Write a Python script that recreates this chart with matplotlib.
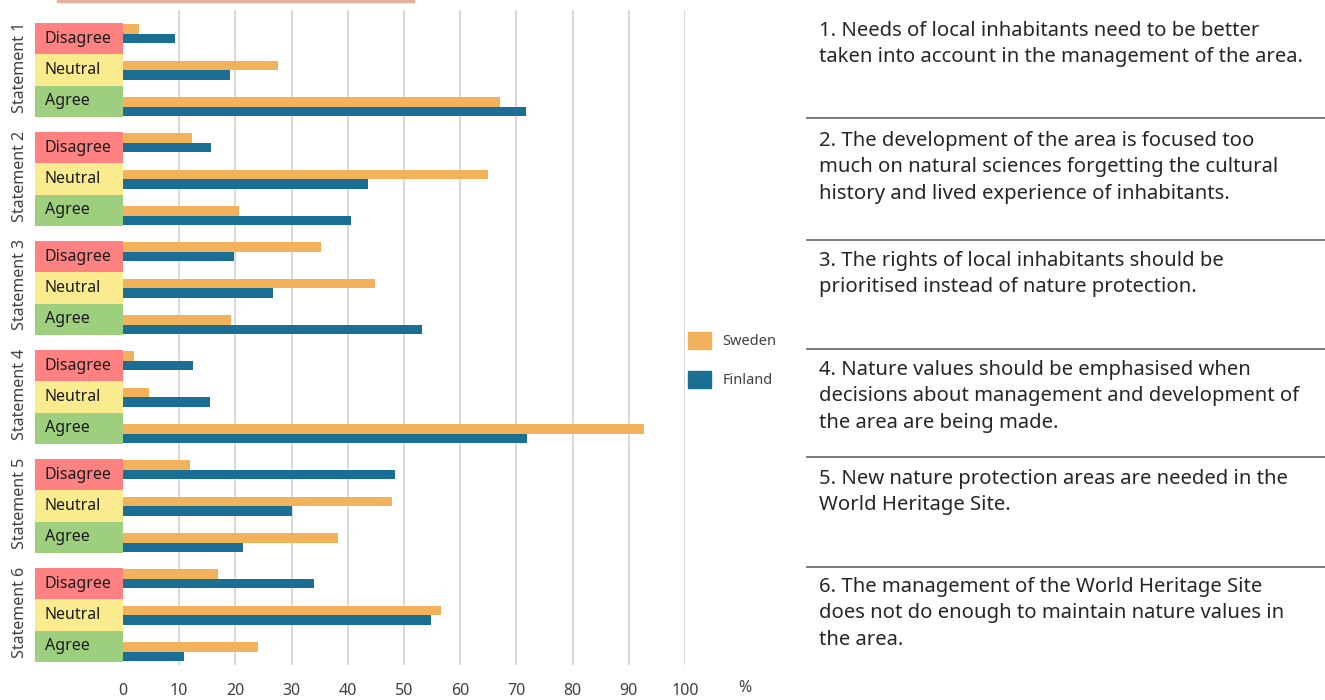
import matplotlib
matplotlib.use("Agg")
import matplotlib.pyplot as plt
from matplotlib.patches import Patch, Rectangle
from matplotlib.lines import Line2D
from matplotlib.transforms import blended_transform_factory

plt.rcParams['font.family'] = ['Noto Sans', 'DejaVu Sans']

# data (percent of respondents)
statements = ['Statement 1', 'Statement 2', 'Statement 3',
              'Statement 4', 'Statement 5', 'Statement 6']
answers = ['Disagree', 'Neutral', 'Agree']
sweden = [[2.8, 27.6, 67.1],
          [12.3, 65.0, 20.6],
          [35.2, 44.8, 19.2],
          [2.0, 4.6, 92.7],
          [11.9, 47.9, 38.3],
          [16.9, 56.6, 24.0]]
finland = [[9.3, 19.0, 71.7],
           [15.7, 43.6, 40.6],
           [19.8, 26.7, 53.2],
           [12.5, 15.5, 71.9],
           [48.4, 30.1, 21.4],
           [34.0, 54.8, 10.9]]
x_ticks = [0, 10, 20, 30, 40, 50, 60, 70, 80, 90, 100]
descriptions = [
    "1. Needs of local inhabitants need to be better\ntaken into account in the management of the area.",
    "2. The development of the area is focused too\nmuch on natural sciences forgetting the cultural\nhistory and lived experience of inhabitants.",
    "3. The rights of local inhabitants should be\nprioritised instead of nature protection.",
    "4. Nature values should be emphasised when\ndecisions about management and development of\nthe area are being made.",
    "5. New nature protection areas are needed in the\nWorld Heritage Site.",
    "6. The management of the World Heritage Site\ndoes not do enough to maintain nature values in\nthe area.",
]

SWE_COL = '#F2B25C'
FIN_COL = '#1B6E94'
box_colors = {'Disagree': '#FF8181', 'Neutral': '#FAEC8E', 'Agree': '#9ECF7F'}

W, H = 1325, 700
fig = plt.figure(figsize=(W / 100, H / 100), dpi=100)

# axes spans x=0..100 between pixel 123 and 685, y in pixel-like units
ax_top, ax_bot = 10, 665
ax = fig.add_axes([123 / W, 1 - ax_bot / H, (685 - 123) / W, (ax_bot - ax_top) / H])
ax.set_xlim(0, 100)
ax.set_ylim(ax_bot, ax_top)

first_center = 70
group_step = 109.0
bar_step = 36.5
bar_h = 9.5
row_h = 31.3

trans = blended_transform_factory(fig.transFigure, ax.transData)
for g in range(len(statements)):
    gc = first_center + g * group_step
    for c, ans in enumerate(answers):
        yb = gc + (c - 1) * bar_step
        ax.barh(yb - bar_h / 2, sweden[g][c], height=bar_h, color=SWE_COL, zorder=3)
        ax.barh(yb + bar_h / 2, finland[g][c], height=bar_h, color=FIN_COL, zorder=3)
        # coloured answer box left of the axis
        yr = gc + (c - 1) * row_h
        ax.add_patch(Rectangle((-15.66, yr - row_h / 2), 15.66, row_h,
                               facecolor=box_colors[ans], edgecolor='none',
                               clip_on=False, zorder=4))
        ax.text(-13.9, yr, ans, ha='left', va='center', fontsize=11.5,
                color='#1a1a1a', zorder=5, clip_on=False)
    ax.text(20 / W, gc - 3, statements[g], rotation=90, ha='center', va='center',
            fontsize=11.5, color='#404040', transform=trans)

ax.set_xticks(x_ticks)
ax.set_xticklabels([str(t) for t in x_ticks], fontsize=11.5, color='#404040')
ax.tick_params(axis='x', length=0, pad=13)
ax.set_yticks([])
ax.xaxis.grid(True, color='#D6D6D6', lw=1.3, zorder=0)
ax.get_xgridlines()[0].set_visible(False)
for s in ax.spines.values():
    s.set_visible(False)
fig.text(745 / W, 1 - 688 / H, '%', fontsize=11.5, color='#404040', ha='center', va='center')

handles = [Patch(color=SWE_COL, label='Sweden'), Patch(color=FIN_COL, label='Finland')]
fig.legend(handles=handles, loc='upper left', bbox_to_anchor=(688 / W, 1 - 332 / H),
           frameon=False, fontsize=10.5, handlelength=1.55, handleheight=1.4,
           handletextpad=0.8, labelspacing=1.5, borderpad=0, borderaxespad=0,
           labelcolor='#404040')

# statement descriptions on the right
first_lines = [29, 139, 259, 368, 477, 585]
for txt, yc in zip(descriptions, first_lines):
    fig.text(819 / W, 1 - (yc - 8) / H, txt, ha='left', va='top', fontsize=14.6,
             color='#262626', linespacing=1.42)
for yl in [118, 240, 349, 457, 567]:
    fig.add_artist(Line2D([807 / W, 1], [1 - yl / H, 1 - yl / H], color='#707070', lw=1.3))

# faint line at the top edge
fig.add_artist(Line2D([58 / W, 413 / W], [1 - 1 / H, 1 - 1 / H], color='#E2AE98', lw=2.5))

fig.savefig('out.png', dpi=100)
